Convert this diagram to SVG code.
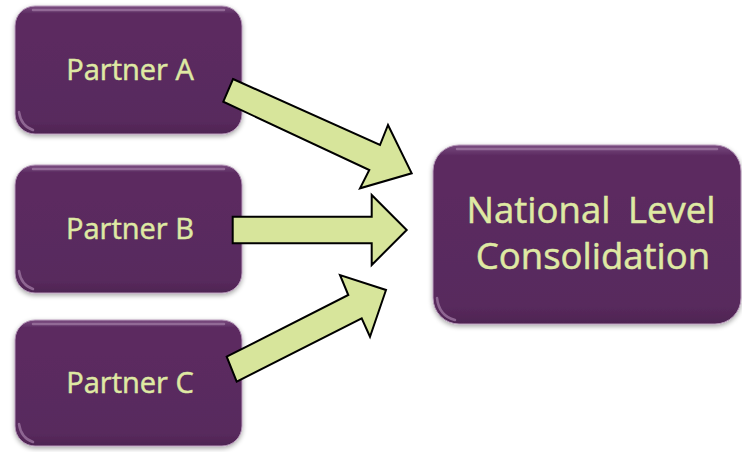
<svg xmlns="http://www.w3.org/2000/svg" width="742" height="452" viewBox="0 0 742 452">
<defs>
<linearGradient id="boxFill" x1="0" y1="0" x2="0" y2="1">
<stop offset="0" stop-color="#7a4c80"/>
<stop offset="0.06" stop-color="#5c2b61"/>
<stop offset="0.9" stop-color="#582a5d"/>
<stop offset="1" stop-color="#4e2452"/>
</linearGradient>
<filter id="shadow" x="-10%" y="-10%" width="120%" height="125%">
<feGaussianBlur in="SourceAlpha" stdDeviation="2.5"/>
<feOffset dx="0" dy="2" result="b"/>
<feComponentTransfer><feFuncA type="linear" slope="0.35"/></feComponentTransfer>
<feMerge><feMergeNode/><feMergeNode in="SourceGraphic"/></feMerge>
</filter>
<style>
.box{fill:url(#boxFill);stroke:#b89bbb;stroke-width:1;filter:url(#shadow);}
.gloss{fill:none;stroke:#9c76a0;stroke-width:2.5;stroke-linecap:round;opacity:0.8;}
.lbl{font-family:"Open Sans","Noto Sans","Liberation Sans",sans-serif;fill:#dfe9a3;stroke:#dfe9a3;stroke-width:0.5;text-anchor:middle;}
.p{font-size:29px;}
.n{font-size:36.5px;word-spacing:8px;}
.arrow{fill:#d7e59b;stroke:#000;stroke-width:2;stroke-linejoin:miter;}
</style>
</defs>
<rect width="742" height="452" fill="#ffffff"/>
<g id="partner-a">
<rect class="box" x="15" y="6" width="227" height="128" rx="20" ry="20"/>
<path class="gloss" d="M33 10 H224"/>
<path class="gloss" d="M19 112 Q21 126 33 130"/>
<text class="lbl p" x="130" y="80">Partner A</text>
</g>
<g id="partner-b">
<rect class="box" x="15" y="165" width="227" height="128" rx="20" ry="20"/>
<path class="gloss" d="M33 169 H224"/>
<path class="gloss" d="M19 271 Q21 285 33 289"/>
<text class="lbl p" x="130" y="239">Partner B</text>
</g>
<g id="partner-c">
<rect class="box" x="15" y="320" width="227" height="126" rx="20" ry="20"/>
<path class="gloss" d="M33 324 H224"/>
<path class="gloss" d="M19 424 Q21 438 33 442"/>
<text class="lbl p" x="130" y="393">Partner C</text>
</g>
<g id="national">
<rect class="box" x="433" y="145" width="308" height="179" rx="26" ry="26"/>
<path class="gloss" d="M457 149 H717"/>
<path class="gloss" d="M437 298 Q439 316 455 320"/>
<text class="lbl n" x="591" y="223">National Level</text>
<text class="lbl n" x="593" y="269">Consolidation</text>
</g>
<g id="connectors">
<polygon class="arrow" points="233,79 380,145 388,125 411.7,173.3 360,188.3 369.3,170 223.3,101.7"/>
<polygon class="arrow" points="232.7,216.7 371.7,216.7 371.7,195 406.7,230 371.7,265 371.7,243.3 232.7,243.3"/>
<polygon class="arrow" points="226.7,356.7 348.3,295 340,275 386,290 370,336.7 361.7,318.3 236.7,381.7"/>
</g>
</svg>
